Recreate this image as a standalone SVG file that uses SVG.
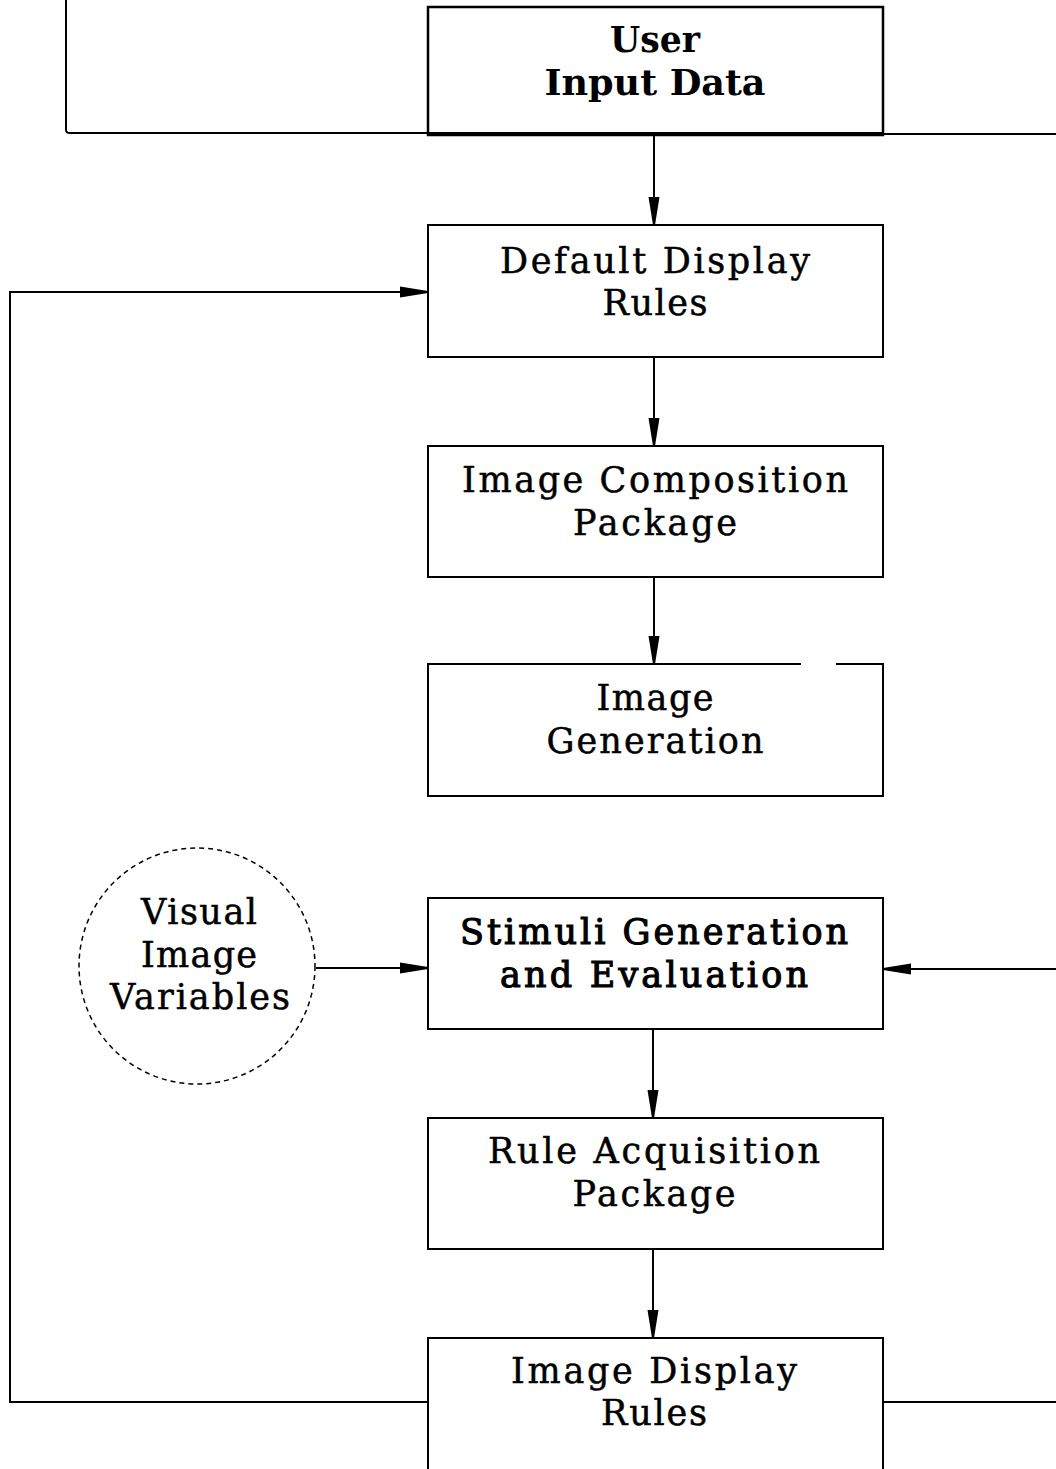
<svg xmlns="http://www.w3.org/2000/svg" width="1056" height="1469" viewBox="0 0 1056 1469">
<style>
.box{fill:#fff;stroke:#000;stroke-width:2}
.ln{fill:none;stroke:#000;stroke-width:2}
.t{font-family:"DejaVu Serif","Liberation Serif",serif;font-size:35px;fill:#000;text-anchor:middle;stroke:#000;stroke-width:0.5}
.b{font-weight:bold;stroke-width:0}
.m{stroke-width:1.1}
</style>
<defs>
<marker id="ah" viewBox="0 0 28 14" refX="28" refY="7" markerWidth="28" markerHeight="14" markerUnits="userSpaceOnUse" orient="auto">
<path d="M0,1.5 L28,6 L28,8 L0,12.5 Z" fill="#000"/>
</marker>
</defs>
<rect width="1056" height="1469" fill="#fff"/>
<g id="connectors">
<path class="ln" d="M66,0 V130 Q66,133 70,133 H428"/>
<line class="ln" x1="883" y1="134" x2="1056" y2="134"/>
<line class="ln" x1="654" y1="136" x2="654" y2="225" marker-end="url(#ah)"/>
<line class="ln" x1="654" y1="357" x2="654" y2="446" marker-end="url(#ah)"/>
<line class="ln" x1="654" y1="577" x2="654" y2="664" marker-end="url(#ah)"/>
<line class="ln" x1="653" y1="1029" x2="653" y2="1118" marker-end="url(#ah)"/>
<line class="ln" x1="653" y1="1249" x2="653" y2="1338" marker-end="url(#ah)"/>
<path class="ln" d="M428,1402 H10 V292 H428" marker-end="url(#ah)"/>
<line class="ln" x1="883" y1="1402" x2="1056" y2="1402"/>
<line class="ln" x1="1056" y1="969" x2="883" y2="969" marker-end="url(#ah)"/>
<line class="ln" x1="316" y1="968" x2="428" y2="968" marker-end="url(#ah)"/>
</g>
<g id="user-input-data">
<rect class="box" x="428" y="7" width="455" height="128" style="stroke-width:2.5"/>
<line x1="428" y1="134" x2="883" y2="134" stroke="#000" stroke-width="4"/>
<text class="t b" x="655" y="52" textLength="90" lengthAdjust="spacingAndGlyphs">User</text>
<text class="t b" x="655" y="95" textLength="221" lengthAdjust="spacingAndGlyphs">Input Data</text>
</g>
<g id="default-display-rules">
<rect class="box" x="428" y="225" width="455" height="132"/>
<text class="t" x="655" y="273" textLength="310" lengthAdjust="spacing">Default Display</text>
<text class="t" x="655" y="315" textLength="105" lengthAdjust="spacing">Rules</text>
</g>
<g id="image-composition-package">
<rect class="box" x="428" y="446" width="455" height="131"/>
<text class="t" x="655" y="492" textLength="386" lengthAdjust="spacing">Image Composition</text>
<text class="t" x="655" y="535" textLength="164" lengthAdjust="spacing">Package</text>
</g>
<g id="image-generation">
<rect class="box" x="428" y="664" width="455" height="132"/>
<line x1="801" y1="664" x2="836" y2="664" stroke="#fff" stroke-width="4"/>
<text class="t" x="655" y="710" textLength="117" lengthAdjust="spacing">Image</text>
<text class="t" x="655" y="753" textLength="217" lengthAdjust="spacing">Generation</text>
</g>
<g id="visual-image-variables">
<circle cx="197" cy="966" r="118" fill="#fff" stroke="#000" stroke-width="1.5" stroke-dasharray="5,4"/>
<text class="t" x="199" y="924" textLength="116" lengthAdjust="spacing">Visual</text>
<text class="t" x="199" y="967" textLength="116" lengthAdjust="spacing">Image</text>
<text class="t" x="200" y="1009" textLength="180" lengthAdjust="spacing">Variables</text>
</g>
<g id="stimuli-generation-evaluation">
<rect class="box" x="428" y="898" width="455" height="131"/>
<text class="t m" x="654" y="944" textLength="388" lengthAdjust="spacing">Stimuli Generation</text>
<text class="t m" x="654" y="987" textLength="308" lengthAdjust="spacing">and Evaluation</text>
</g>
<g id="rule-acquisition-package">
<rect class="box" x="428" y="1118" width="455" height="131"/>
<text class="t" x="654" y="1163" textLength="332" lengthAdjust="spacing">Rule Acquisition</text>
<text class="t" x="654" y="1206" textLength="163" lengthAdjust="spacing">Package</text>
</g>
<g id="image-display-rules">
<rect class="box" x="428" y="1338" width="455" height="140"/>
<text class="t" x="654" y="1383" textLength="286" lengthAdjust="spacing">Image Display</text>
<text class="t" x="654" y="1425" textLength="106" lengthAdjust="spacing">Rules</text>
</g>
</svg>
